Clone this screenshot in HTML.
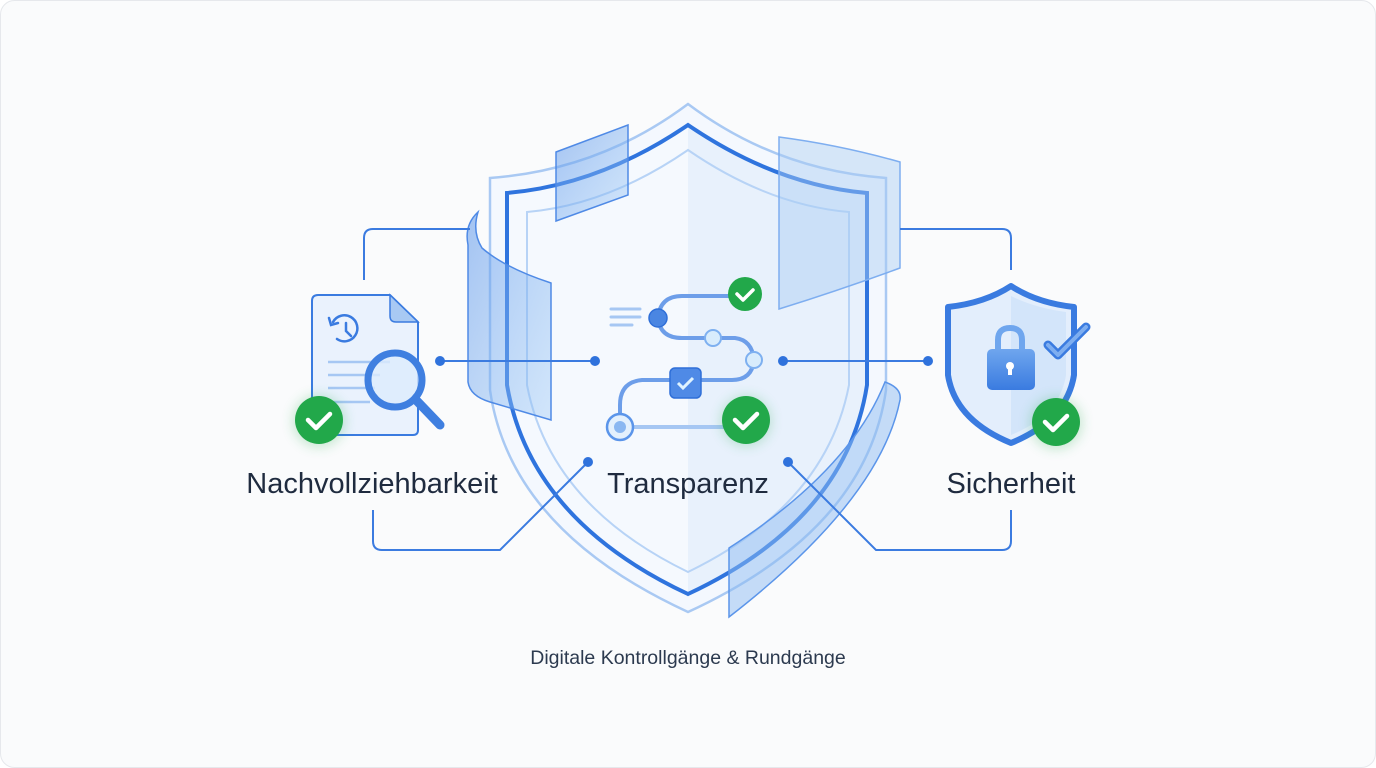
<!DOCTYPE html>
<html><head><meta charset="utf-8"><style>
html,body{margin:0;padding:0;background:#fff;}
svg{display:block;font-family:"Liberation Sans",sans-serif;}
</style></head><body>
<svg width="1376" height="768" viewBox="0 0 1376 768" xmlns="http://www.w3.org/2000/svg">
<defs>
<linearGradient id="pan" x1="0" y1="0" x2="1" y2="1"><stop offset="0" stop-color="#5b95ea" stop-opacity="0.55"/><stop offset="1" stop-color="#9cc8f5" stop-opacity="0.4"/></linearGradient>
<linearGradient id="lk" x1="0" y1="0" x2="0" y2="1"><stop offset="0" stop-color="#6fa6ee"/><stop offset="1" stop-color="#3a7be0"/></linearGradient>
<filter id="sh" x="-50%" y="-50%" width="200%" height="200%"><feGaussianBlur stdDeviation="6"/></filter>
</defs>
<rect x="0.5" y="0.5" width="1375" height="767" rx="14" fill="#fafbfc" stroke="#e6e8ec"/>

<!-- big shield -->
<path d="M688 104 Q600 170 490 178 V390 Q510 530 688 612 Q866 530 886 390 V178 Q776 170 688 104 Z" fill="#f4f8fe" stroke="#a9c9f3" stroke-width="2.5"/>
<path d="M688 125 Q600 185 507 193 V385 Q530 520 688 594 V125 Z" fill="#f5f9fe"/>
<path d="M688 125 Q776 185 867 193 V385 Q846 520 688 594 V125 Z" fill="#e8f1fc"/>
<path d="M688 125 Q600 185 507 193 V385 Q530 520 688 594 Q846 520 867 385 V193 Q776 185 688 125 Z" fill="none" stroke="#2f74de" stroke-width="4"/>
<path d="M688 150 Q608 205 527 212 V385 Q550 505 688 572 Q826 505 849 385 V212 Q768 205 688 150 Z" fill="none" stroke="#b7d3f6" stroke-width="2"/>

<!-- glass panels -->
<path d="M556 152 L628 125 V195 L556 221 Z" fill="url(#pan)" stroke="#4f8ae6" stroke-width="1.5"/>
<path d="M779 137 Q840 145 900 162 V268 Q840 290 779 309 Z" fill="#a9cdf5" fill-opacity="0.45" stroke="#7eaef0" stroke-width="1.5"/>
<path d="M478 212 Q464 225 468 245 V382 Q470 396 490 402 L551 420 V283 Q505 268 482 248 Q472 232 478 212 Z" fill="url(#pan)" stroke="#4f8ae6" stroke-width="1.5"/>
<path d="M885 382 Q902 388 900 400 Q880 500 729 617 V548 Q850 470 885 382 Z" fill="#8ebcf2" fill-opacity="0.5" stroke="#5b95ea" stroke-width="1.5"/>

<!-- connectors -->
<g fill="none" stroke="#3b7be0" stroke-width="2">
<path d="M364 280 V238 Q364 229 373 229 H470"/>
<path d="M373 510 V541 Q373 550 382 550 H500 L588 462"/>
<path d="M440 361 H595"/>
<path d="M783 361 H928"/>
<path d="M900 229 H1002 Q1011 229 1011 238 V270"/>
<path d="M788 462 L876 550 H1002 Q1011 550 1011 541 V510"/>
</g>
<g fill="#2f72dc"><circle cx="440" cy="361" r="5"/><circle cx="595" cy="361" r="5"/><circle cx="783" cy="361" r="5"/><circle cx="928" cy="361" r="5"/><circle cx="588" cy="462" r="5"/><circle cx="788" cy="462" r="5"/></g>

<!-- process path -->
<g stroke="#a6c7f3" stroke-width="3" stroke-linecap="round"><line x1="611" y1="309" x2="640" y2="309"/><line x1="611" y1="317" x2="640" y2="317"/><line x1="611" y1="325" x2="632" y2="325"/></g>
<g fill="none" stroke="#6d9ee9" stroke-width="4">
<path d="M658 318 Q660 296 682 296 H735"/>
<path d="M658 318 Q660 338 682 338 H735 Q752 340 754 360"/>
<path d="M754 360 Q752 380 732 380 H642 Q620 382 620 405 V427"/>
<path d="M620 427 H730" stroke="#a6c7f3"/>
</g>
<circle cx="658" cy="318" r="9" fill="#4a86e2" stroke="#2f6fd8" stroke-width="1.5"/>
<circle cx="713" cy="338" r="8" fill="#d8ecfc" stroke="#7eb0f0" stroke-width="2"/>
<circle cx="754" cy="360" r="8" fill="#d8ecfc" stroke="#7eb0f0" stroke-width="2"/>
<circle cx="620" cy="427" r="13" fill="#e3f0fd" stroke="#5b95ea" stroke-width="2.5"/>
<circle cx="620" cy="427" r="6" fill="#8ab7f1"/>
<rect x="670" y="368" width="31" height="30" rx="5" fill="#4f8ae6" stroke="#2f6fd8" stroke-width="1.5"/>
<path d="M678 383 l5 5 l10 -10" fill="none" stroke="#dff3ff" stroke-width="3"/>
<circle cx="745" cy="294" r="17" fill="#22a84a"/>
<path d="M737 294 l6 6 l10 -10" fill="none" stroke="#fff" stroke-width="3.5" stroke-linecap="round" stroke-linejoin="round"/>
<circle cx="746" cy="421" r="25" fill="#22a84a" opacity="0.25" filter="url(#sh)"/>
<circle cx="746" cy="420" r="24" fill="#22a84a"/>
<path d="M735 420 l8 8 l14 -14" fill="none" stroke="#fff" stroke-width="4.5" stroke-linecap="round" stroke-linejoin="round"/>

<!-- document icon -->
<path d="M318 295 H390 L418 322 V430 Q418 435 413 435 H318 Q312 435 312 430 V301 Q312 295 318 295 Z" fill="#eaf2fd" stroke="#3a7be0" stroke-width="2"/>
<path d="M390 295 V316 Q390 322 396 322 H418 Z" fill="#a8c9f3" stroke="#3a7be0" stroke-width="1.5"/>
<g fill="none" stroke="#3a7be0" stroke-width="2.5" stroke-linecap="round">
<path d="M333 322 A13 13 0 1 1 337 339"/><path d="M329 318 l2 7 l7 -2"/><path d="M346 323 V331 l5 5"/>
</g>
<g stroke="#a6c7f3" stroke-width="2.5"><line x1="328" y1="362" x2="390" y2="362"/><line x1="328" y1="375" x2="380" y2="375"/><line x1="328" y1="388" x2="375" y2="388"/><line x1="328" y1="402" x2="370" y2="402"/></g>
<line x1="416" y1="400" x2="440" y2="425" stroke="#3f7fe0" stroke-width="9" stroke-linecap="round"/>
<circle cx="395" cy="380" r="27" fill="#dcebfc" fill-opacity="0.8" stroke="#3f7fe0" stroke-width="7"/>
<circle cx="319" cy="421" r="26" fill="#22a84a" opacity="0.25" filter="url(#sh)"/>
<circle cx="319" cy="420" r="24" fill="#22a84a"/>
<path d="M308 420 l8 8 l14 -14" fill="none" stroke="#fff" stroke-width="4.5" stroke-linecap="round" stroke-linejoin="round"/>

<!-- Sicherheit shield -->
<path d="M1011 286 Q985 303 948 307 V375 Q955 420 1011 443 Q1067 420 1074 375 V307 Q1037 303 1011 286 Z" fill="#e3eefc" stroke="#3a7be0" stroke-width="6" stroke-linejoin="round"/>
<path d="M1011 296 V435 Q1060 415 1066 375 V312 Q1035 308 1011 296 Z" fill="#d3e5fa"/>
<path d="M998 350 V340 Q998 328 1010 328 Q1022 328 1022 340 V350" fill="none" stroke="#6fa6ee" stroke-width="6"/>
<rect x="987" y="349" width="48" height="41" rx="5" fill="url(#lk)"/>
<circle cx="1010" cy="366" r="4" fill="#fff"/><rect x="1008" y="366" width="4" height="9" fill="#fff"/>
<path d="M1048 345 l10 10 l28 -28" fill="none" stroke="#3a7be0" stroke-width="9" stroke-linecap="round" stroke-linejoin="round"/>
<path d="M1048 345 l10 10 l28 -28" fill="none" stroke="#7eaef0" stroke-width="4" stroke-linecap="round" stroke-linejoin="round"/>
<circle cx="1056" cy="423" r="26" fill="#22a84a" opacity="0.25" filter="url(#sh)"/>
<circle cx="1056" cy="422" r="24" fill="#22a84a"/>
<path d="M1045 422 l8 8 l14 -14" fill="none" stroke="#fff" stroke-width="4.5" stroke-linecap="round" stroke-linejoin="round"/>

<!-- labels -->
<g fill="#1f2b3f" font-size="29" text-anchor="middle">
<text x="372" y="493">Nachvollziehbarkeit</text>
<text x="688" y="493">Transparenz</text>
<text x="1011" y="493">Sicherheit</text>
</g>
<text x="688" y="664" font-size="19.5" fill="#2c3a4f" text-anchor="middle">Digitale Kontrollgänge &amp; Rundgänge</text>
</svg>
</body></html>
